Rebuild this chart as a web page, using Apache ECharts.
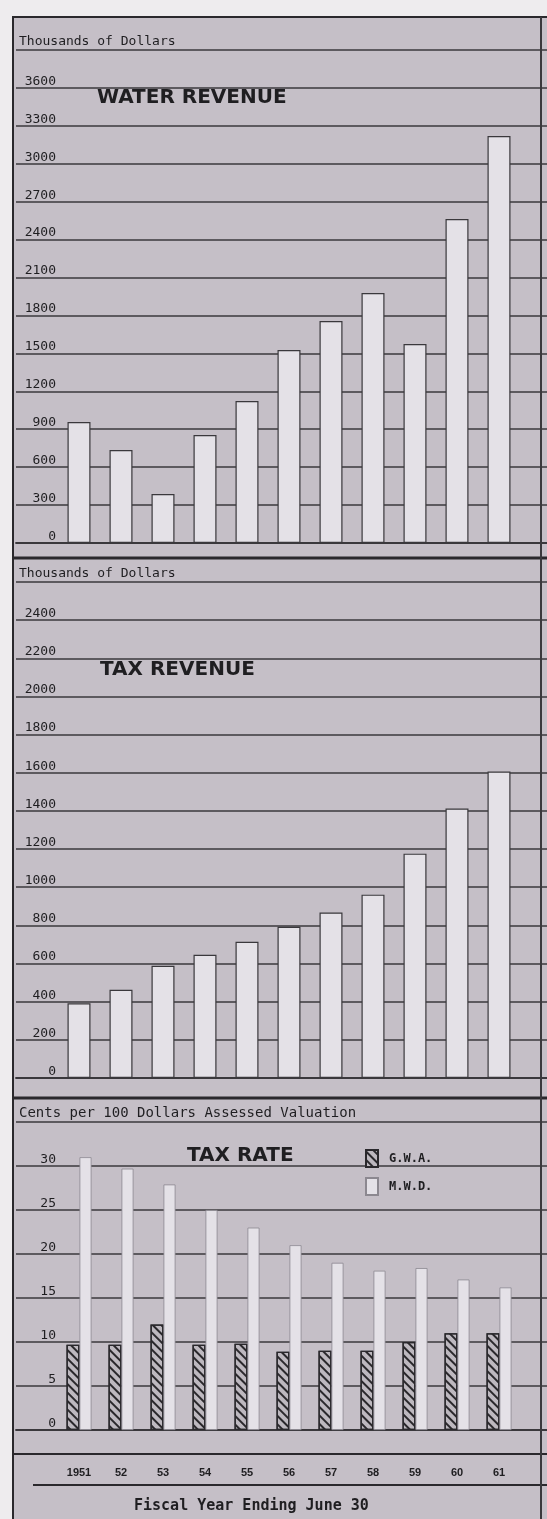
<!DOCTYPE html>
<html><head><meta charset="utf-8">
<script src="https://cdn.jsdelivr.net/npm/echarts@6/dist/echarts.min.js"></script>
<style>html,body{margin:0;padding:0;background:#eeecee;overflow:hidden;width:547px;height:1519px}#c{width:566px;height:1519px}</style>
</head><body><div id="c"></div>
<script>
// ---- data ----
const years = ['1951', '52', '53', '54', '55', '56', '57', '58', '59', '60', '61'];
const waterRevenue = [957, 736, 388, 854, 1123, 1527, 1756, 1978, 1574, 2563, 3220];
const taxRevenue = [392, 462, 588, 646, 714, 793, 867, 961, 1176, 1413, 1607];
const gwaRate = [9.7, 9.7, 12, 9.7, 9.8, 8.9, 9, 9, 10, 11, 11];
const mwdRate = [31, 29.7, 27.9, 25, 23, 21, 19, 18.1, 18.4, 17.1, 16.2];
const waterAxis = { max: 3900, step: 300 };
const taxAxis = { max: 2600, step: 200 };
const rateAxis = { max: 35, step: 5 };

// ---- styling ----
const INK = '#1f1e21';
const LINE = '#3a383c';
const PAPER = '#c5bfc7';
const BAR = '#e4e1e7';
const MONO = '"DejaVu Sans Mono", monospace';
const SANS = '"Liberation Sans", Arial, sans-serif';
const TITLE = '"DejaVu Sans", sans-serif';

const cats = ['', ...years, ''];
const pad = a => ['-', ...a, '-'];

function yAxis(gridIndex, ax, name, nameSize) {
  return {
    type: 'value', gridIndex, min: 0, max: ax.max, interval: ax.step,
    name, nameLocation: 'end', nameGap: 2,
    nameTextStyle: { fontFamily: MONO, fontSize: nameSize, color: INK, align: 'left', verticalAlign: 'bottom', padding: [0, 0, 0, 3] },
    axisLine: { show: false }, axisTick: { show: false },
    axisLabel: {
      inside: true, margin: 40, align: 'right', verticalAlign: 'bottom',
      fontFamily: MONO, fontSize: 13, color: INK,
      formatter: v => (v >= ax.max ? '' : String(v))
    },
    splitLine: { show: true, lineStyle: { color: LINE, width: 1.5 } }
  };
}
function xAxis(gridIndex, showLabels) {
  return {
    type: 'category', gridIndex, data: cats, boundaryGap: true,
    axisLine: { show: true, lineStyle: { color: LINE, width: 1.8 } },
    axisTick: { show: false },
    axisLabel: showLabels ? { show: true, interval: 0, margin: 37, fontFamily: SANS, fontWeight: 'bold', fontSize: 11, color: INK } : { show: false }
  };
}
const titleStyle = { fontFamily: TITLE, fontSize: 20, fontWeight: 'bold', color: INK };

const chart = echarts.init(document.getElementById('c'), null, { renderer: 'canvas', width: 566, height: 1519 });
chart.setOption({
  backgroundColor: '#eeecee',
  animation: false,
  grid: [
    { left: 16, width: 546, top: 50, height: 493 },
    { left: 16, width: 546, top: 582, height: 496 },
    { left: 16, width: 546, top: 1122, height: 308 }
  ],
  title: [
    { text: 'WATER REVENUE', left: 97, top: 88, padding: 0, textStyle: titleStyle },
    { text: 'TAX REVENUE', left: 100, top: 660, padding: 0, textStyle: titleStyle },
    { text: 'TAX RATE', left: 187, top: 1146, padding: 0, textStyle: titleStyle },
    { text: 'Fiscal Year Ending June 30', left: 134, top: 1499, padding: 0, textStyle: { fontFamily: MONO, fontSize: 15, fontWeight: 'bold', color: INK } }
  ],
  legend: {
    data: ['G.W.A.', 'M.W.D.'], orient: 'vertical', left: 365, top: 1149,
    itemWidth: 12, itemHeight: 17, itemGap: 9, icon: 'rect', padding: 0,
    textStyle: { fontFamily: MONO, fontWeight: 'bold', fontSize: 12, color: INK, padding: [0, 0, 0, 6] }
  },
  xAxis: [xAxis(0, false), xAxis(1, false), xAxis(2, true)],
  yAxis: [
    yAxis(0, waterAxis, 'Thousands of Dollars', 13),
    yAxis(1, taxAxis, 'Thousands of Dollars', 13),
    yAxis(2, rateAxis, 'Cents per 100 Dollars Assessed Valuation', 14)
  ],
  series: [
    { name: 'Water Revenue', type: 'bar', xAxisIndex: 0, yAxisIndex: 0, data: pad(waterRevenue), barWidth: 23,
      itemStyle: { color: BAR, borderColor: LINE, borderWidth: 1.2 } },
    { name: 'Tax Revenue', type: 'bar', xAxisIndex: 1, yAxisIndex: 1, data: pad(taxRevenue), barWidth: 23,
      itemStyle: { color: BAR, borderColor: LINE, borderWidth: 1.2 } },
    { name: 'G.W.A.', type: 'bar', xAxisIndex: 2, yAxisIndex: 2, data: pad(gwaRate), barWidth: 13, barGap: '0%',
      itemStyle: { color: '#bdb8bf', borderColor: '#2a282c', borderWidth: 1.3,
        decal: { symbol: 'rect', symbolSize: 1, color: '#2a282c', dashArrayX: [1, 0], dashArrayY: [2, 4], rotation: Math.PI / 4 } } },
    { name: 'M.W.D.', type: 'bar', xAxisIndex: 2, yAxisIndex: 2, data: pad(mwdRate), barWidth: 12, barGap: '0%',
      itemStyle: { color: BAR, borderColor: '#8c8890', borderWidth: 0.8 } }
  ],
  graphic: [
    { type: 'rect', z: -100, silent: true, shape: { x: 13, y: 17, width: 600, height: 1600 },
      style: { fill: PAPER, stroke: '#2a282c', lineWidth: 2 } },
    { type: 'line', silent: true, z: 100, shape: { x1: 13, y1: 558, x2: 566, y2: 558 }, style: { stroke: '#2a282c', lineWidth: 3 } },
    { type: 'line', silent: true, z: 100, shape: { x1: 13, y1: 1098, x2: 566, y2: 1098 }, style: { stroke: '#2a282c', lineWidth: 3 } },
    { type: 'line', silent: true, z: 100, shape: { x1: 13, y1: 1454, x2: 566, y2: 1454 }, style: { stroke: '#2a282c', lineWidth: 2 } },
    { type: 'line', silent: true, z: 100, shape: { x1: 33, y1: 1485, x2: 566, y2: 1485 }, style: { stroke: '#2a282c', lineWidth: 2 } },
    { type: 'line', silent: true, z: 100, shape: { x1: 541, y1: 17, x2: 541, y2: 1519 }, style: { stroke: '#3a383c', lineWidth: 2 } }
  ]
});
</script>
</body></html>
